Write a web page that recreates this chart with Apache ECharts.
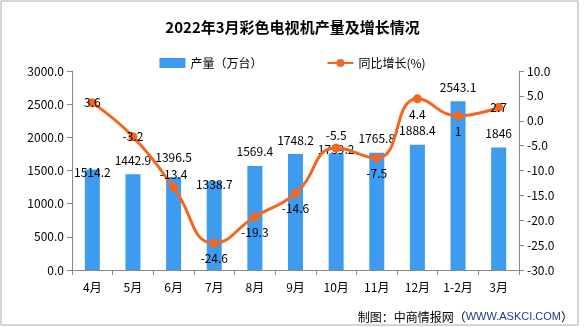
<!DOCTYPE html>
<html><head><meta charset="utf-8">
<script src="https://cdn.jsdelivr.net/npm/echarts@6/dist/echarts.min.js"></script>
<style>html,body{margin:0;padding:0;background:#fff}#c{width:585px;height:327px}</style>
</head><body><div id="c"></div>
<script>
var categories = ['4月','5月','6月','7月','8月','9月','10月','11月','12月','1-2月','3月'];
var production = [1514.2,1442.9,1396.5,1338.7,1569.4,1748.2,1759.2,1765.8,1888.4,2543.1,1846];
var growth = [3.6,-3.2,-13.4,-24.6,-19.3,-14.6,-5.5,-7.5,4.4,1,2.7];
var leftTicks = {min:0,max:3000,interval:500};
var rightTicks = {min:-30,max:10,interval:5};

// label placement (style only)
var growthLabelPos = ['inside','inside','top','bottom','bottom','bottom','top','bottom','bottom','bottom','inside'];
var barLabelDist = [-9,8,14,-9,8,8,-2,8,8,8,8];

var chart = echarts.init(document.getElementById('c'));
var font = 'SimSun, "Noto Sans CJK SC", sans-serif';
var lineData = growth.map(function(v,i){
  var p = growthLabelPos[i];
  return {value:v,label:{position:p,distance:p==='top'?2:5}};
});
var barData = production.map(function(v,i){
  return {value:v,label:{distance:barLabelDist[i]}};
});
chart.setOption({
  animation:false,
  textStyle:{fontFamily:font},
  graphic:[{type:'rect',shape:{x:1,y:1,width:577,height:324},style:{fill:'none',stroke:'#aaa',lineWidth:1}},
    {type:'text',right:12,top:311,style:{text:'{a|制图：中商情报网（}{b|WWW.ASKCI.COM}{a|）}',
      rich:{a:{font:'12px '+font,fill:'#000'},b:{font:'11px Arial, "Liberation Sans", sans-serif',fill:'#1f3b8c'}}}}
  ],
  title:{text:'2022年3月彩色电视机产量及增长情况',left:'center',top:15,textStyle:{fontSize:15,fontWeight:'bold',color:'#000',fontFamily:font}},
  legend:{top:52,left:'center',itemGap:64,itemWidth:26,itemHeight:10,textStyle:{fontSize:12,color:'#000'},
    data:[{name:'产量（万台）',icon:'rect'},{name:'同比增长(%)'}]},
  grid:{left:72,right:66,top:71,bottom:57},
  xAxis:{type:'category',data:categories,
    axisLine:{lineStyle:{color:'#888'}},axisTick:{show:true,alignWithLabel:false,length:5,lineStyle:{color:'#888'}},
    axisLabel:{color:'#000',fontSize:12,margin:11}},
  yAxis:[{type:'value',min:leftTicks.min,max:leftTicks.max,interval:leftTicks.interval,
    axisLine:{show:true,lineStyle:{color:'#888'}},axisTick:{show:true,length:5,lineStyle:{color:'#888'}},
    splitLine:{show:false},axisLabel:{color:'#000',fontSize:12,formatter:function(v){return v.toFixed(1);}}},
    {type:'value',min:rightTicks.min,max:rightTicks.max,interval:rightTicks.interval,
    axisLine:{show:true,lineStyle:{color:'#888'}},axisTick:{show:true,length:5,lineStyle:{color:'#888'}},
    splitLine:{show:false},axisLabel:{color:'#000',fontSize:12,formatter:function(v){return v.toFixed(1);}}}],
  series:[{name:'产量（万台）',type:'bar',data:barData,barWidth:15,itemStyle:{color:'#3d9bf0'},
    label:{show:true,position:'top',color:'#000',fontSize:12}},
    {name:'同比增长(%)',type:'line',yAxisIndex:1,data:lineData,smooth:true,symbol:'circle',symbolSize:9,
    lineStyle:{color:'#f5661e',width:3},itemStyle:{color:'#f5661e'},
    label:{show:true,color:'#000',fontSize:12}}]
});
</script></body></html>
